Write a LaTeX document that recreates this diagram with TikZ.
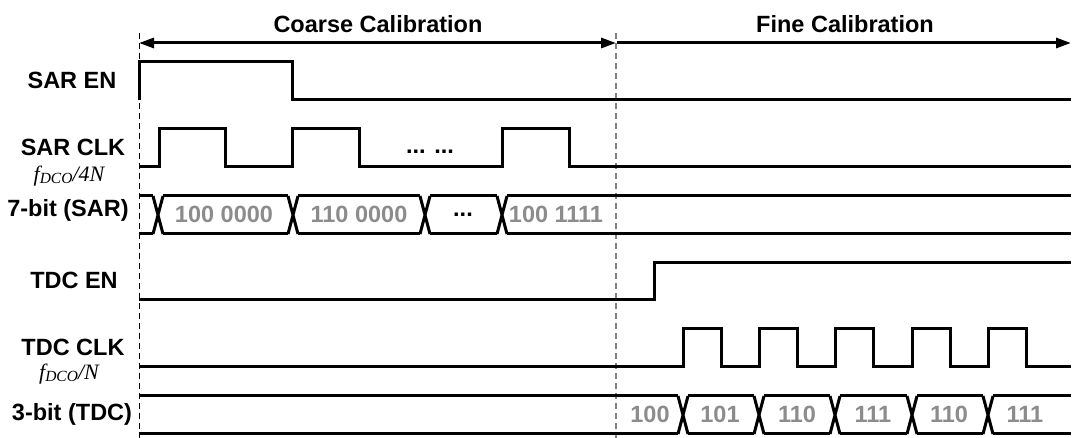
\documentclass[tikz,border=0pt]{standalone}
\usepackage{fontspec}
\setmainfont{Liberation Sans}
\newfontfamily\serifit{Liberation Serif}
\usetikzlibrary{arrows.meta}
\definecolor{valgray}{RGB}{140,140,140}

\begin{document}
\begin{tikzpicture}[x=1pt,y=-1pt,
  sig/.style={line width=3pt,line join=miter},
  lbl/.style={anchor=base,inner sep=0pt,font=\fontsize{23.5}{28}\selectfont\bfseries},
  val/.style={lbl,text=valgray},
  frq/.style={anchor=base,inner sep=0pt,font=\fontsize{22}{24}\selectfont\serifit\itshape},
  span/.style={line width=3pt,>={Triangle[length=15pt,width=10pt]}}]

\useasboundingbox (0,0) rectangle (1072,438);

% phase borders
\draw[black,line width=1pt,dash pattern=on 6pt off 4pt] (139,33) -- (139,438);
\draw[gray,line width=1.4pt,dash pattern=on 6pt off 4pt] (616,33) -- (616,438);

% phase arrows
\coordinate (c0) at (139,43);
\coordinate (c1) at (616,43);
\coordinate (c2) at (1071,43);
\draw[span,<->] (c0) -- (c1);
\draw[span,->] ([xshift=1pt]c1) -- (c2);
\node[lbl] (coarse) at (378,33) {Coarse Calibration};
\node[lbl] (fine) at (845,33) {Fine Calibration};

% signal names
\node[lbl] (saren) at (72,89) {SAR EN};
\node[lbl] (sarclk) at (73,156) {SAR CLK};
\node[frq] (sarfrq) at (69,182) {f\raisebox{-1.5pt}{\fontsize{15.5}{15}\selectfont DCO}/4N};
\node[lbl] (sarbus) at (68,217) {7-bit (SAR)};
\node[lbl] (tdcen) at (74,289) {TDC EN};
\node[lbl] (tdcclk) at (73,356) {TDC CLK};
\node[frq] (tdcfrq) at (69,380) {f\raisebox{-1.5pt}{\fontsize{15.5}{15}\selectfont DCO}/N};
\node[lbl] (tdcbus) at (72,421) {3-bit (TDC)};

% SAR EN
\draw[sig] (139,100) -- (139,62) -- (292,62) -- (292,100) -- (1071,100);

% SAR CLK
\draw[sig] (139,167) -- (159,167) -- (159,129) -- (225,129) -- (225,167)
  -- (292,167) -- (292,129) -- (359,129) -- (359,167)
  -- (502,167) -- (502,129) -- (569,129) -- (569,167) -- (1071,167);
\node[lbl] (sardots) at (430,154) {... ...};

% 7-bit SAR word
\foreach \a/\b in {139/153, 163/288, 298/420, 430/497, 507/1071}{
\draw[sig] (\a,196) -- (\b,196) (\a,234) -- (\b,234);
}
\foreach \c in {158, 293, 425, 502}{
\draw[sig] (\c-5,196) -- (\c+5,234) (\c-5,234) -- (\c+5,196);
}
\node[val] (s1) at (224,223) {100 0000};
\node[val] (s2) at (359,223) {110 0000};
\node[lbl] (s3) at (463,217) {...};
\node[val] (s4) at (556,223) {100 1111};

% TDC EN
\draw[sig] (139,300) -- (654,300) -- (654,263) -- (1071,263);

% TDC CLK
\draw[sig] (139,367)
  \foreach \r in {683, 759, 835, 912, 988}{ -- (\r,367) -- (\r,329) -- (\r+38,329) -- (\r+38,367) }
  -- (1071,367);

% 3-bit TDC word
\foreach \a/\b in {139/678, 688/754, 764/830, 840/907, 917/983, 993/1071}{
\draw[sig] (\a,396) -- (\b,396) (\a,434) -- (\b,434);
}
\foreach \c in {683, 759, 835, 912, 988}{
\draw[sig] (\c-5,396) -- (\c+5,434) (\c-5,434) -- (\c+5,396);
}
\foreach \x/\t [count=\i] in {650/100, 720/101, 797/110, 873/111, 949/110, 1025/111}{
\node[val] (t\i) at (\x,423) {\t};
}

\end{tikzpicture}
\end{document}
